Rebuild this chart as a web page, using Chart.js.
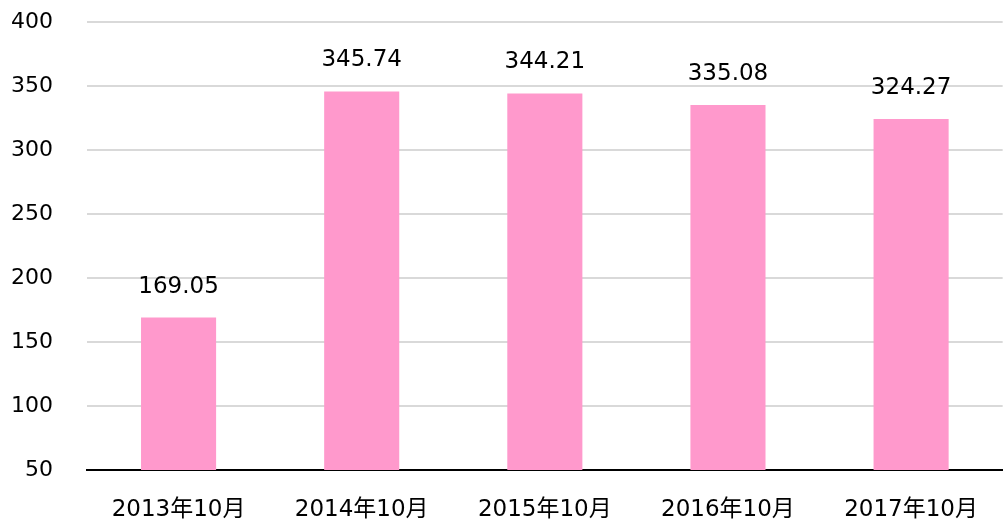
<!DOCTYPE html>
<html>
<head>
<meta charset="utf-8">
<script src="https://cdn.jsdelivr.net/npm/chart.js@4/dist/chart.umd.min.js"></script>
<style>
  html, body { margin: 0; padding: 0; background: #fff; }
  #wrap { width: 1004px; height: 521px; }
</style>
</head>
<body>
<div id="wrap"><canvas id="myChart"></canvas></div>
<script>
const labels = ["2013年10月", "2014年10月", "2015年10月", "2016年10月", "2017年10月"];
const values = [169.05, 345.74, 344.21, 335.08, 324.27];
const yTicks = [50, 100, 150, 200, 250, 300, 350, 400];

const FONT = '"DejaVu Sans", "Noto Sans CJK JP", sans-serif';

// value labels above each bar
const barLabels = {
  id: "barLabels",
  afterDatasetsDraw(chart) {
    const ctx = chart.ctx;
    const meta = chart.getDatasetMeta(0);
    ctx.save();
    ctx.font = "23px " + FONT;
    ctx.fillStyle = "#000";
    ctx.textAlign = "center";
    ctx.textBaseline = "alphabetic";
    meta.data.forEach((bar, i) => {
      ctx.fillText(values[i].toFixed(2), bar.x, bar.y - 25);
    });
    ctx.restore();
  },
};

const ctx = document.getElementById("myChart");
const myChart = new Chart(ctx, {
  type: "bar",
  data: {
    labels: labels,
    datasets: [
      {
        data: values,
        backgroundColor: "#FF99CC",
        borderWidth: 0,
        barPercentage: 0.41,
        categoryPercentage: 1,
      },
    ],
  },
  options: {
    responsive: true,
    maintainAspectRatio: false,
    animation: false,
    layout: { padding: { top: 0, left: 0, right: 0, bottom: 0 } },
    plugins: {
      legend: { display: false },
      tooltip: { enabled: false },
    },
    scales: {
      x: {
        grid: { display: false, drawTicks: false },
        border: { display: true, color: "#000", width: 2 },
        ticks: {
          color: "#000",
          font: { family: FONT, size: 23 },
          padding: 26,
          maxRotation: 0,
        },
        afterFit: (scale) => { scale.height = 51; },
      },
      y: {
        min: 50,
        max: 400,
        afterBuildTicks: (scale) => {
          scale.ticks = yTicks.map((v) => ({ value: v }));
        },
        grid: { color: "#d9d9d9", lineWidth: 2, drawTicks: false },
        border: { display: false },
        ticks: {
          color: "#000",
          font: { family: FONT, size: 22 },
          padding: 34,
        },
        afterFit: (scale) => {
          scale.width = 87;
          // tick padding would otherwise push the plot top down
          scale.paddingTop = 22;
          scale.paddingBottom = 0;
        },
      },
    },
  },
  plugins: [barLabels],
});
</script>
</body>
</html>
